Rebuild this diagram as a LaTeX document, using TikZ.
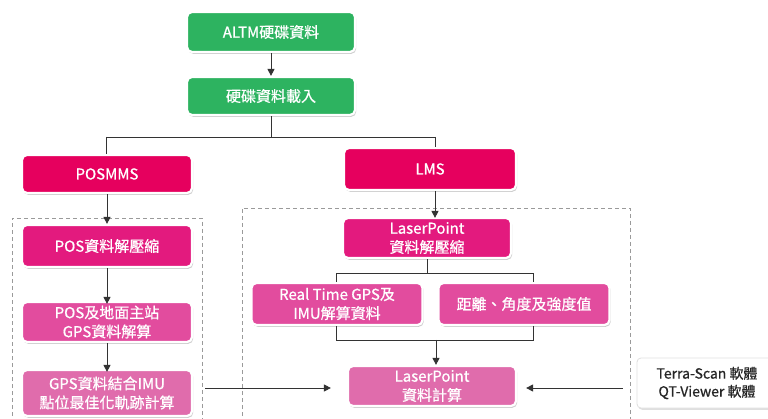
\documentclass[tikz,border=0pt]{standalone}
\usepackage{fontspec}
\setmainfont[FakeBold=0.8]{Noto Sans CJK TC}
\usetikzlibrary{arrows.meta,shadows}
\definecolor{gr}{HTML}{2DB360}
\definecolor{pkA}{HTML}{E6005E}
\definecolor{pkB}{HTML}{E31A7E}
\definecolor{pkC}{HTML}{E24C9E}
\definecolor{pkD}{HTML}{E06CAC}
\definecolor{dash}{HTML}{9A9A9A}
\tikzset{
  box/.style={draw=white, line width=2.2pt, rounded corners=5pt, text=white,
    align=center, inner sep=1pt, font=\fontsize{15}{19}\selectfont,
    drop shadow={opacity=0.4, shadow xshift=1.2pt, shadow yshift=-1.8pt}},
  gbox/.style={box, fill=gr},
  abox/.style={box, fill=pkA},
  bbox/.style={box, fill=pkB},
  cbox/.style={box, fill=pkC},
  dbox/.style={box, fill=pkD},
  wbox/.style={draw=black!12, line width=0.8pt, fill=white, rounded corners=4pt,
    text=black!85, align=center, font=\fontsize{14}{18}\selectfont,
    drop shadow={opacity=0.25, shadow xshift=1.2pt, shadow yshift=-1.8pt}},
  ln/.style={draw=black!80, line width=0.9pt},
  arr/.style={ln, -{Triangle[length=7pt,width=7pt]}},
  grp/.style={draw=dash, line width=0.8pt, dash pattern=on 4pt off 3pt}
}
\begin{document}
\begin{tikzpicture}[x=1pt,y=-1pt]
\useasboundingbox (0,0) rectangle (768,419);
\fill[white] (0,0) rectangle (768,419);
% groups
\draw[grp] (12,430) -- (12,218) -- (202,218) -- (202,430);
\draw[grp] (242,430) -- (242,208) -- (630,208) -- (630,430);
% nodes
\node[gbox, minimum width=168pt, minimum height=40pt] (g1) at (271,32) {ALTM硬碟資料};
\node[gbox, minimum width=168pt, minimum height=38pt] (g2) at (271,96) {硬碟資料載入};
\node[abox, minimum width=170pt, minimum height=38pt] (posmms) at (107,174) {POSMMS};
\node[abox, minimum width=172pt, minimum height=42pt] (lms) at (430,169) {LMS};
\node[bbox, minimum width=168pt, minimum height=40pt] (lp1) at (427,238) {LaserPoint\\資料解壓縮};
\node[bbox, minimum width=170pt, minimum height=42pt] (pos1) at (107,246) {POS資料解壓縮};
\node[cbox, minimum width=170pt, minimum height=40pt] (pos2) at (107,322) {POS及地面主站\\GPS資料解算};
\node[dbox, minimum width=170pt, minimum height=46pt] (gps) at (107,393) {GPS資料結合IMU\\點位最佳化軌跡計算};
\node[cbox, minimum width=171pt, minimum height=42pt] (rt) at (337,304) {Real Time GPS及\\IMU解算資料};
\node[cbox, minimum width=171pt, minimum height=42pt] (dist) at (524,304) {距離、角度及強度值};
\node[dbox, minimum width=168pt, minimum height=40pt] (lpc) at (432,386) {LaserPoint\\資料計算};
\node[wbox, minimum width=140pt, minimum height=50pt] (terra) at (707,383) {Terra-Scan 軟體\\QT-Viewer 軟體};
% connectors
\draw[arr] (g1.south) -- (g2.north);
\coordinate (j1) at (271,137);
\coordinate (jl) at (106,137);
\coordinate (jr) at (435,137);
\draw[ln] (g2.south) -- (j1);
\draw[ln] (jl) -- (jr);
\draw[ln] (jl) -- (jl |- posmms.north);
\draw[ln] (jr) -- (jr |- lms.north);
\draw[arr] (posmms.south) -- (pos1.north);
\draw[arr] (pos1.south) -- ([yshift=-3pt]pos2.north);
\draw[arr] (pos2.south) -- ([yshift=-3pt]gps.north);
\draw[arr] (jr |- lms.south) -- ([yshift=-1pt]jr |- lp1.north);
\coordinate (j2) at (427,273);
\coordinate (j2l) at (336,273);
\coordinate (j2r) at (533,273);
\draw[ln] (lp1.south) -- (j2);
\draw[ln] (j2l |- rt.north) -- (j2l) -- (j2r) -- (j2r |- dist.north);
\coordinate (j3) at (436,340);
\coordinate (j3l) at (336,340);
\coordinate (j3r) at (533,340);
\draw[ln] (j3l |- rt.south) -- (j3l) -- (j3r) -- (j3r |- dist.south);
\draw[arr] (j3) -- (j3 |- lpc.north);
\draw[arr, shorten <=12pt, shorten >=16pt] (gps.east |- 0,388) -- (lpc.west |- 0,388);
\draw[arr, shorten <=14pt, shorten >=9pt] (terra.west |- 0,388) -- (lpc.east |- 0,388);
\end{tikzpicture}
\end{document}
